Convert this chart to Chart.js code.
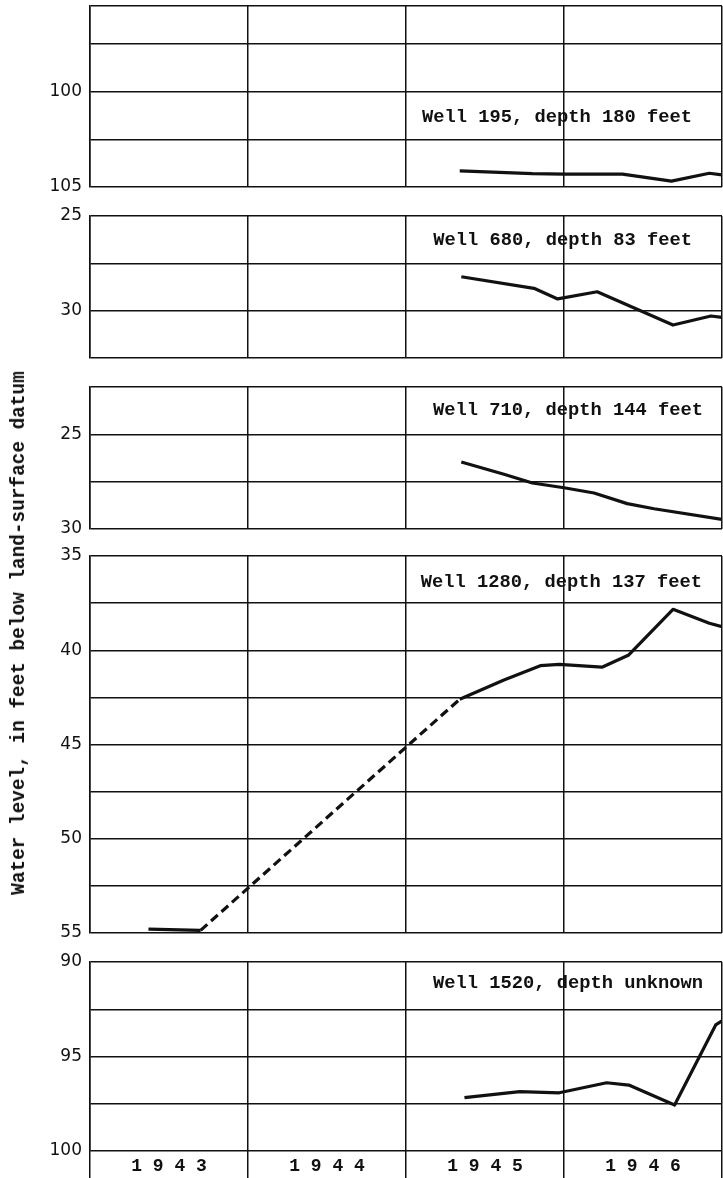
<!DOCTYPE html>
<html>
<head>
<meta charset="utf-8">
<title>Water levels in wells, 1943-46</title>
<script src="https://cdn.jsdelivr.net/npm/chart.js@4.4.1/dist/chart.umd.min.js"></script>
<style>
  body { margin: 0; background: #fff; }
  #page { position: relative; width: 723px; height: 1178px; overflow: hidden; }
  #page canvas { position: absolute; left: 0; }
  #ytitle {
    position: absolute; left: 19px; top: 633px;
    transform: translate(-50%, -50%) rotate(-90deg);
    white-space: nowrap; color: #111;
    font: bold 19.4px "Liberation Mono", monospace;
  }
</style>
</head>
<body>
<div id="page">
  <canvas id="well-195" width="723" height="197" style="top:0px"></canvas>
  <canvas id="well-680" width="723" height="162" style="top:206px"></canvas>
  <canvas id="well-710" width="723" height="162" style="top:377px"></canvas>
  <canvas id="well-1280" width="723" height="397" style="top:546px"></canvas>
  <canvas id="well-1520" width="723" height="226" style="top:952px"></canvas>
  <div id="ytitle">Water level, in feet below land-surface datum</div>
</div>
<script>
// time axis (decimal years)
const yearLines = [1943, 1944, 1945, 1946, 1947];
const yearMids = [1943.5, 1944.5, 1945.5, 1946.5];
const yearLabels = ['1 9 4 3', '1 9 4 4', '1 9 4 5', '1 9 4 6'];

// water levels, feet below land-surface datum
const well195Dates = [1945.34, 1945.80, 1946.0, 1946.37, 1946.68, 1946.92, 1947.0];
const well195Levels = [104.15, 104.3, 104.32, 104.32, 104.69, 104.28, 104.36];

const well680Dates = [1945.35, 1945.81, 1945.96, 1946.21, 1946.69, 1946.93, 1947.0];
const well680Levels = [28.21, 28.82, 29.38, 29.0, 30.76, 30.28, 30.35];

const well710Dates = [1945.35, 1945.62, 1945.80, 1946.0, 1946.19, 1946.40, 1946.57, 1947.0];
const well710Levels = [26.46, 27.11, 27.57, 27.82, 28.1, 28.66, 28.93, 29.49];

const well1280Dates = [1943.37, 1943.70, 1945.34, 1945.62, 1945.85, 1945.97, 1946.24, 1946.41, 1946.69, 1946.92, 1947.0];
const well1280Levels = [54.79, 54.86, 42.6, 41.58, 40.82, 40.75, 40.9, 40.25, 37.83, 38.57, 38.75];
const well1280GapStart = 1; // no readings between these two points, drawn dashed

const well1520Dates = [1945.37, 1945.72, 1945.97, 1946.27, 1946.41, 1946.70, 1946.96, 1947.0];
const well1520Levels = [97.18, 96.86, 96.92, 96.39, 96.51, 97.57, 93.33, 93.12];

// y grid lines and labelled values for each panel
const well195Grid = [95.5, 97.5, 100, 102.5, 105];
const well195Labels = [100, 105];
const well680Grid = [25, 27.5, 30, 32.5];
const well680Labels = [25, 30];
const well710Grid = [22.5, 25, 27.5, 30];
const well710Labels = [25, 30];
const well1280Grid = [35, 37.5, 40, 42.5, 45, 47.5, 50, 52.5, 55];
const well1280Labels = [35, 40, 45, 50, 55];
const well1520Grid = [90, 92.5, 95, 97.5, 100];
const well1520Labels = [90, 95, 100];

const wellNames = [
    'Well 195, depth 180 feet',
    'Well 680, depth 83 feet',
    'Well 710, depth 144 feet',
    'Well 1280, depth 137 feet',
    'Well 1520, depth unknown'
];

const INK = '#111';
const TYPE = '"Liberation Mono", monospace';

// writes the well name inside the plot area
const wellLabel = {
    id: 'wellLabel',
    afterDatasetsDraw(chart, args, opts) {
        const ctx = chart.ctx;
        const area = chart.chartArea;
        ctx.save();
        ctx.font = 'bold 18.75px ' + TYPE;
        ctx.fillStyle = INK;
        ctx.textAlign = 'right';
        ctx.textBaseline = 'middle';
        ctx.fillText(opts.text, area.right - opts.right, area.top + opts.top);
        ctx.restore();
    }
};

// keep the plot area exactly where the layout padding puts it
function noEdgePadding(axis) {
    axis.paddingTop = 0;
    axis.paddingBottom = 0;
    axis.paddingLeft = 0;
    axis.paddingRight = 0;
}

function drawWell(id, name, dates, levels, grid, labels, place, isBottom) {
    const points = dates.map((d, i) => ({ x: d, y: levels[i] }));
    const dataset = {
        data: points,
        borderColor: INK,
        borderWidth: 3.2,
        pointRadius: 0,
        tension: 0,
        borderJoinStyle: 'round',
        fill: false
    };
    if (id === 'well-1280') {
        dataset.segment = {
            borderDash: ctx => ctx.p0DataIndex === well1280GapStart ? [9, 5] : undefined
        };
    }

    const xTicks = isBottom
        ? yearLines.concat(yearMids).sort((a, b) => a - b)
        : yearLines;

    new Chart(document.getElementById(id), {
        type: 'line',
        data: { datasets: [dataset] },
        options: {
            responsive: false,
            animation: false,
            devicePixelRatio: 1,
            layout: {
                padding: { left: 0, right: 1, top: place.padTop, bottom: isBottom ? 0 : 10 }
            },
            plugins: {
                legend: { display: false },
                tooltip: { enabled: false },
                wellLabel: { text: name, right: place.right, top: place.top }
            },
            scales: {
                x: {
                    type: 'linear',
                    min: 1943,
                    max: 1947,
                    afterBuildTicks: axis => { axis.ticks = xTicks.map(v => ({ value: v })); },
                    afterFit: axis => {
                        axis.height = isBottom ? 27 : 0;
                        noEdgePadding(axis);
                    },
                    border: { display: false },
                    grid: {
                        color: c => (c.tick && c.tick.value % 1 !== 0) ? 'rgba(0,0,0,0)' : INK,
                        lineWidth: 1.5,
                        drawTicks: isBottom,
                        tickLength: 27
                    },
                    ticks: {
                        display: isBottom,
                        autoSkip: false,
                        maxRotation: 0,
                        padding: -22,
                        color: INK,
                        font: { family: TYPE, size: 18, weight: 'bold' },
                        callback: v => {
                            const i = yearMids.indexOf(v);
                            return i >= 0 ? yearLabels[i] : '';
                        }
                    }
                },
                y: {
                    reverse: true,
                    min: grid[0],
                    max: grid[grid.length - 1],
                    afterBuildTicks: axis => { axis.ticks = grid.map(v => ({ value: v })); },
                    afterFit: axis => {
                        axis.width = 90;
                        noEdgePadding(axis);
                    },
                    border: { display: true, color: INK, width: 1.5 },
                    grid: { color: INK, lineWidth: 1.5, drawTicks: false },
                    ticks: {
                        padding: 8,
                        color: INK,
                        font: { family: '"DejaVu Sans", sans-serif', size: 17 },
                        callback: v => labels.includes(v) ? String(v) : ''
                    }
                }
            }
        },
        plugins: [wellLabel]
    });
}

drawWell('well-195', wellNames[0], well195Dates, well195Levels, well195Grid, well195Labels,
    { padTop: 6, right: 30, top: 111 }, false);
drawWell('well-680', wellNames[1], well680Dates, well680Levels, well680Grid, well680Labels,
    { padTop: 10, right: 30, top: 24 }, false);
drawWell('well-710', wellNames[2], well710Dates, well710Levels, well710Grid, well710Labels,
    { padTop: 10, right: 19, top: 23 }, false);
drawWell('well-1280', wellNames[3], well1280Dates, well1280Levels, well1280Grid, well1280Labels,
    { padTop: 10, right: 20, top: 26 }, false);
drawWell('well-1520', wellNames[4], well1520Dates, well1520Levels, well1520Grid, well1520Labels,
    { padTop: 10, right: 19, top: 21 }, true);
</script>
</body>
</html>
